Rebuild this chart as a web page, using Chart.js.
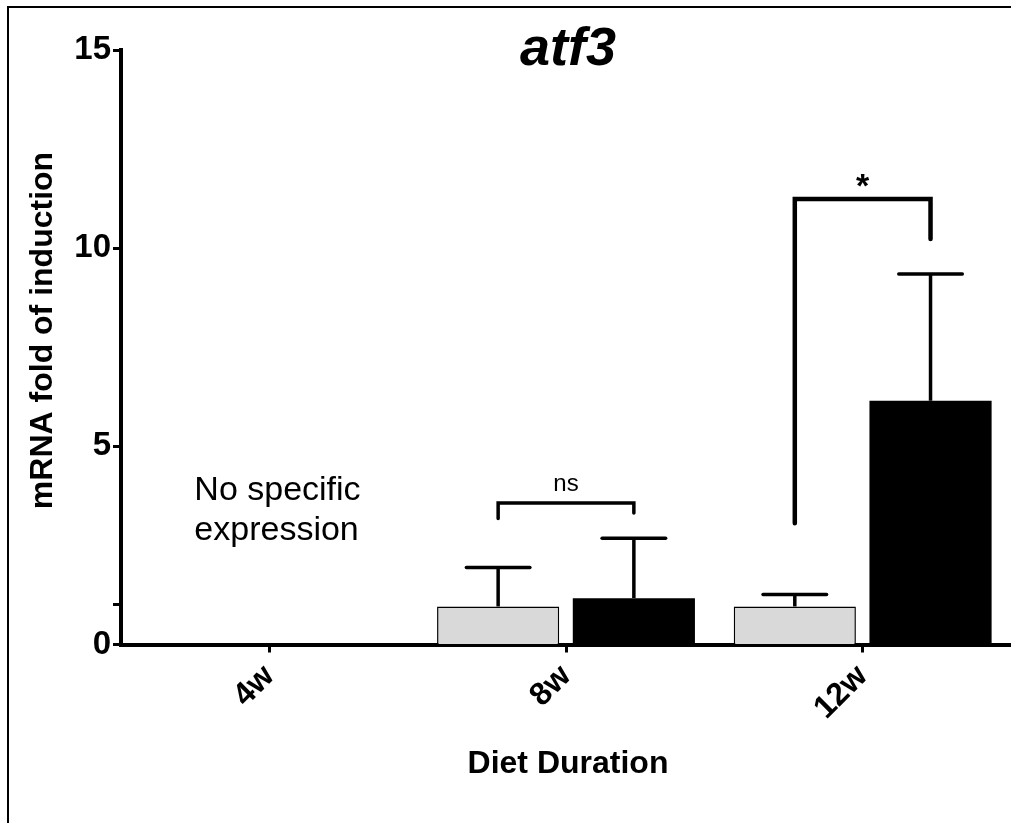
<!DOCTYPE html>
<html>
<head>
<meta charset="utf-8">
<script src="https://cdn.jsdelivr.net/npm/chart.js@4.4.1/dist/chart.umd.min.js"></script>
<style>
  html, body { margin: 0; padding: 0; background: #fff; }
  #wrap { width: 1011px; height: 823px; position: relative; }
</style>
</head>
<body>
<div id="wrap"><canvas id="c" width="1011" height="823"></canvas></div>
<script>
// ---- data ----
const categories = ['4w', '8w', '12w'];
const controlMeans = [null, 0.96, 0.96];
const controlSEM = [null, 0.98, 0.30];
const dietMeans = [null, 1.17, 6.15];
const dietSEM = [null, 1.51, 3.20];
const yTickValues = [0, 1, 5, 10, 15];
const yTickLabels = ['0', '', '5', '10', '15'];
const bracketCategory = [1, 2];
const bracketLevel = [3.57, 11.24];
const bracketLeftEnd = [3.18, 3.06];
const bracketRightEnd = [3.32, 10.23];
const bracketLabels = ['ns', '*'];
const noteLines = ['No specific', 'expression'];
const noteLevels = [3.65, 2.64];

const FONT = '"Liberation Sans", Arial, Helvetica, sans-serif';

const overlay = {
  id: 'overlay',
  afterDatasetsDraw(chart) {
    const ctx = chart.ctx;
    const ys = chart.scales.y;
    const xs = chart.scales.x;
    ctx.save();
    ctx.strokeStyle = '#000';
    ctx.fillStyle = '#000';
    // error bars
    [[0, controlMeans, controlSEM], [1, dietMeans, dietSEM]].forEach(([d, means, sems]) => {
      const meta = chart.getDatasetMeta(d);
      means.forEach((m, i) => {
        if (m === null || sems[i] === null) return;
        const el = meta.data[i];
        const x = el.x;
        const yb = ys.getPixelForValue(m);
        const yt = ys.getPixelForValue(m + sems[i]);
        const hw = el.width * 0.26;
        ctx.lineWidth = 3.5;
        ctx.lineCap = 'butt';
        ctx.beginPath();
        ctx.moveTo(x, yb);
        ctx.lineTo(x, yt);
        ctx.stroke();
        ctx.lineCap = 'round';
        ctx.beginPath();
        ctx.moveTo(x - hw, yt);
        ctx.lineTo(x + hw, yt);
        ctx.stroke();
      });
    });
    // significance brackets
    const m0 = chart.getDatasetMeta(0), m1 = chart.getDatasetMeta(1);
    bracketCategory.forEach((c, k) => {
      const x1 = m0.data[c].x, x2 = m1.data[c].x;
      const yl = ys.getPixelForValue(bracketLevel[k]);
      const ya = ys.getPixelForValue(bracketLeftEnd[k]);
      const yb = ys.getPixelForValue(bracketRightEnd[k]);
      ctx.lineWidth = k === 0 ? 3.5 : 4.5;
      ctx.lineCap = 'round';
      ctx.lineJoin = 'miter';
      ctx.beginPath();
      ctx.moveTo(x1, ya);
      ctx.lineTo(x1, yl);
      ctx.lineTo(x2, yl);
      ctx.lineTo(x2, yb);
      ctx.stroke();
      ctx.textAlign = 'center';
      ctx.textBaseline = 'alphabetic';
      if (bracketLabels[k] === '*') {
        ctx.font = 'bold 34px ' + FONT;
        ctx.fillText(bracketLabels[k], (x1 + x2) / 2, yl - 2);
      } else {
        ctx.font = '24px ' + FONT;
        ctx.fillText(bracketLabels[k], (x1 + x2) / 2, yl - 12);
      }
    });
    // note text for 4w
    ctx.font = '34px ' + FONT;
    ctx.textAlign = 'left';
    const nx = xs.getPixelForValue(0) - 75;
    noteLines.forEach((t, i) => {
      ctx.fillText(t, nx, ys.getPixelForValue(noteLevels[i]));
    });
    ctx.restore();
  },
  afterDraw(chart) {
    const ctx = chart.ctx;
    ctx.save();
    ctx.fillStyle = '#000';
    // title
    ctx.font = 'italic bold 54px ' + FONT;
    ctx.textAlign = 'center';
    ctx.textBaseline = 'alphabetic';
    ctx.fillText('atf3', 568, 65);
    // x title
    ctx.font = 'bold 32px ' + FONT;
    ctx.fillText('Diet Duration', 568, 773);
    // y title
    ctx.translate(52, 330.5);
    ctx.rotate(-Math.PI / 2);
    ctx.fillText('mRNA fold of induction', 0, 0);
    ctx.restore();
    // frame
    ctx.save();
    ctx.strokeStyle = '#000';
    ctx.lineWidth = 2;
    ctx.strokeRect(8, 7, 1100, 900);
    ctx.restore();
  }
};

new Chart(document.getElementById('c'), {
  type: 'bar',
  data: {
    labels: categories,
    datasets: [
      {
        label: 'Control',
        data: controlMeans,
        backgroundColor: '#d9d9d9',
        borderColor: '#000',
        borderWidth: 1.5,
        categoryPercentage: 0.915,
        barPercentage: 0.9
      },
      {
        label: 'Diet',
        data: dietMeans,
        backgroundColor: '#000',
        borderColor: '#000',
        borderWidth: 0,
        categoryPercentage: 0.915,
        barPercentage: 0.9
      }
    ]
  },
  options: {
    responsive: false,
    animation: false,
    layout: { padding: { top: 50, right: -1.5, left: 0, bottom: 0 } },
    plugins: {
      legend: { display: false },
      tooltip: { enabled: false },
      title: { display: false }
    },
    scales: {
      x: {
        offset: true,
        grid: {
          display: true,
          offset: false,
          drawOnChartArea: false,
          drawTicks: true,
          tickLength: 8,
          tickWidth: 3,
          tickColor: '#000'
        },
        border: { display: true, color: '#000', width: 4 },
        ticks: {
          color: '#000',
          font: { family: FONT, size: 32, weight: 'bold' },
          minRotation: 45,
          maxRotation: 45,
          padding: 5,
          autoSkip: false
        },
        afterFit(scale) {
          scale.height = 178.5;
          scale.paddingLeft = 0;
          scale.paddingRight = 0;
        }
      },
      y: {
        min: 0,
        max: 15,
        grid: {
          display: true,
          drawOnChartArea: false,
          drawTicks: true,
          tickLength: 8,
          tickWidth: 3,
          tickColor: '#000'
        },
        border: { display: true, color: '#000', width: 4 },
        afterBuildTicks(scale) {
          scale.ticks = yTickValues.map(v => ({ value: v }));
        },
        ticks: {
          color: '#000',
          font: { family: FONT, size: 33, weight: 'bold' },
          padding: 2,
          autoSkip: false,
          callback(value) {
            const i = yTickValues.indexOf(value);
            return i >= 0 ? yTickLabels[i] : '';
          }
        },
        afterFit(scale) {
          scale.width = 121;
          scale.paddingTop = 0;
          scale.paddingBottom = 0;
        }
      }
    }
  },
  plugins: [overlay]
});
</script>
</body>
</html>
